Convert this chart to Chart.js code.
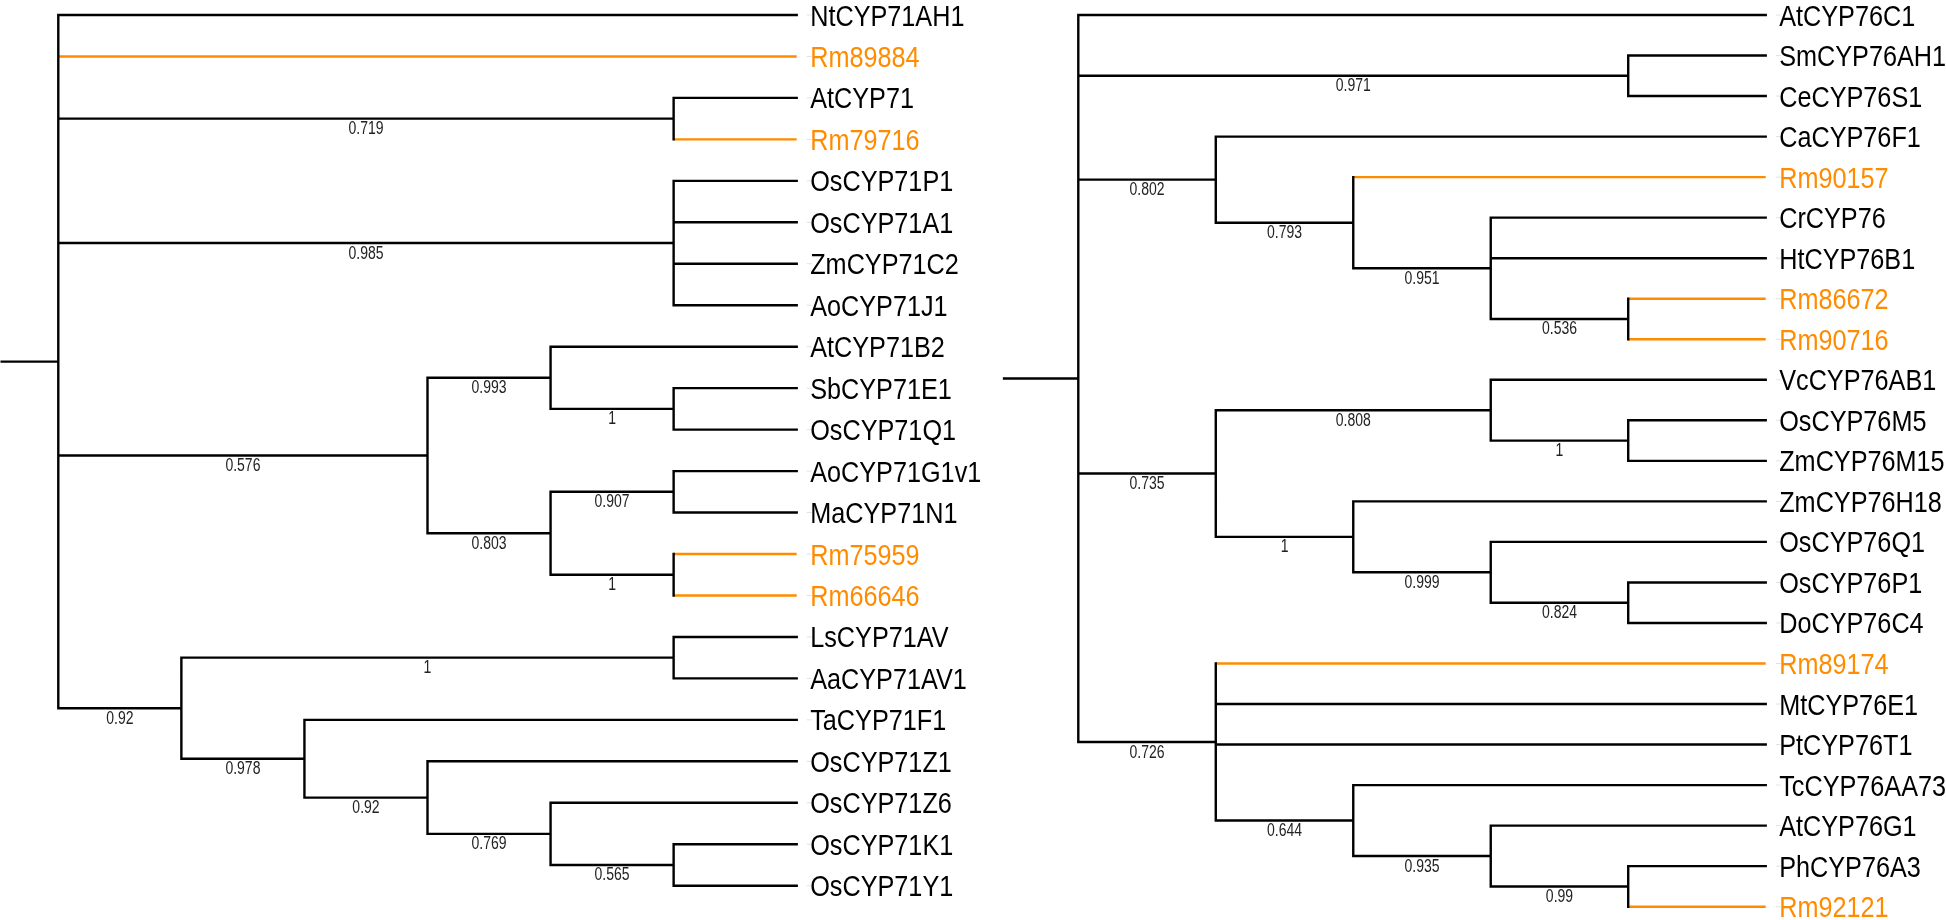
<!DOCTYPE html>
<html>
<head>
<meta charset="utf-8">
<script src="https://cdn.jsdelivr.net/npm/chart.js@4.4.1/dist/chart.umd.min.js"></script>
<style>
  html, body { margin: 0; padding: 0; background: #fff; }
  .quadro { position: relative; width: 1946px; height: 920px; }
  .quadro canvas { position: absolute; left: 0; top: 0; }
</style>
</head>
<body>
<div class="quadro">
  <canvas id="arvore-cyp71" width="1946" height="920"></canvas>
  <canvas id="arvore-cyp76" width="1946" height="920"></canvas>
</div>
<script>
// Topologia das duas arvores (ordem de cima pra baixo), suporte depois de cada clado
const arvoreCYP71 = `(NtCYP71AH1,Rm89884,(AtCYP71,Rm79716)0.719,
  (OsCYP71P1,OsCYP71A1,ZmCYP71C2,AoCYP71J1)0.985,
  ((AtCYP71B2,(SbCYP71E1,OsCYP71Q1)1)0.993,((AoCYP71G1v1,MaCYP71N1)0.907,(Rm75959,Rm66646)1)0.803)0.576,
  ((LsCYP71AV,AaCYP71AV1)1,(TaCYP71F1,(OsCYP71Z1,(OsCYP71Z6,(OsCYP71K1,OsCYP71Y1)0.565)0.769)0.92)0.978)0.92);`;

const arvoreCYP76 = `(AtCYP76C1,(SmCYP76AH1,CeCYP76S1)0.971,
  (CaCYP76F1,(Rm90157,(CrCYP76,HtCYP76B1,(Rm86672,Rm90716)0.536)0.951)0.793)0.802,
  ((VcCYP76AB1,(OsCYP76M5,ZmCYP76M15)1)0.808,(ZmCYP76H18,(OsCYP76Q1,(OsCYP76P1,DoCYP76C4)0.824)0.999)1)0.735,
  (Rm89174,MtCYP76E1,PtCYP76T1,(TcCYP76AA73,(AtCYP76G1,(PhCYP76A3,Rm92121)0.99)0.935)0.644)0.726);`;

// Genes de Rhodomyrtus (destacados em laranja)
const destacados = ['Rm89884', 'Rm79716', 'Rm75959', 'Rm66646',
  'Rm90157', 'Rm86672', 'Rm90716', 'Rm89174', 'Rm92121'];

const COR_DESTAQUE = '#ff8c00';

function lerNewick(texto) {
  texto = texto.replace(/\s+/g, '');
  let pos = 0;
  function no() {
    const n = { filhos: [] };
    if (texto[pos] === '(') {
      pos++;
      n.filhos.push(no());
      while (texto[pos] === ',') { pos++; n.filhos.push(no()); }
      pos++; // ')'
    }
    let rotulo = '';
    while (pos < texto.length && !',);'.includes(texto[pos])) rotulo += texto[pos++];
    if (n.filhos.length) n.suporte = rotulo; else n.nome = rotulo;
    n.filhos.forEach(f => f.pai = n);
    return n;
  }
  return no();
}

function montarArvore(raiz) {
  const folhas = [], internos = [];
  function altura(n) {
    n.altura = n.filhos.length ? 1 + Math.max(...n.filhos.map(altura)) : 0;
    return n.altura;
  }
  const prof = altura(raiz);
  function posicionar(n) {
    n.x = prof - n.altura;
    if (!n.filhos.length) {
      n.y = folhas.length;
      folhas.push(n);
    } else {
      n.filhos.forEach(posicionar);
      n.y = (n.filhos[0].y + n.filhos[n.filhos.length - 1].y) / 2;
      internos.push(n);
    }
  }
  posicionar(raiz);
  return { raiz, folhas, internos, prof };
}

// Rotulos das folhas e valores de suporte
const rotulosArvore = {
  id: 'rotulosArvore',
  afterDatasetsDraw(chart, args, opts) {
    const { ctx } = chart;
    const x = chart.scales.x, y = chart.scales.y;
    const arvore = opts.arvore;
    ctx.save();
    arvore.folhas.forEach(f => {
      const px = x.getPixelForValue(f.x), py = y.getPixelForValue(f.y);
      ctx.strokeStyle = '#e2e2e2';
      ctx.lineWidth = 1;
      ctx.beginPath();
      ctx.moveTo(px + 10, py);
      ctx.lineTo(px + 15, py);
      ctx.stroke();
      ctx.save();
      ctx.translate(px + 13.5, py + 10.5);
      ctx.scale(0.87, 1);
      ctx.font = '29px "Liberation Sans", Arial, sans-serif';
      ctx.textAlign = 'left';
      ctx.textBaseline = 'alphabetic';
      ctx.fillStyle = destacados.includes(f.nome) ? COR_DESTAQUE : '#000';
      ctx.fillText(f.nome, 0, 0);
      ctx.restore();
    });
    arvore.internos.forEach(n => {
      if (!n.pai) return;
      const px = (x.getPixelForValue(n.pai.x) + x.getPixelForValue(n.x)) / 2;
      const py = y.getPixelForValue(n.y);
      ctx.save();
      ctx.translate(px, py + 15.5);
      ctx.scale(0.8, 1);
      ctx.font = '17.5px "Liberation Sans", Arial, sans-serif';
      ctx.textAlign = 'center';
      ctx.textBaseline = 'alphabetic';
      ctx.fillStyle = '#222';
      ctx.fillText(n.suporte, 0, 0);
      ctx.restore();
    });
    ctx.restore();
  }
};

function desenharArvore(idCanvas, newick, area, tocoRaiz) {
  const arvore = montarArvore(lerNewick(newick));
  const linhasPretas = [], linhasLaranja = [];
  const quebra = { x: null, y: null };

  // toco da raiz
  linhasPretas.push({ x: -tocoRaiz, y: arvore.raiz.y }, { x: 0, y: arvore.raiz.y }, quebra);
  arvore.internos.forEach(n => {
    const primeiro = n.filhos[0], ultimo = n.filhos[n.filhos.length - 1];
    linhasPretas.push({ x: n.x, y: primeiro.y }, { x: n.x, y: ultimo.y }, quebra);
    n.filhos.forEach(f => {
      const destino = (!f.filhos.length && destacados.includes(f.nome)) ? linhasLaranja : linhasPretas;
      destino.push({ x: n.x, y: f.y }, { x: f.x, y: f.y }, quebra);
    });
  });

  new Chart(document.getElementById(idCanvas), {
    type: 'scatter',
    data: {
      datasets: [
        {
          data: linhasPretas,
          showLine: true,
          borderColor: '#000',
          borderWidth: 2.4,
          borderCapStyle: 'square',
          pointRadius: 0,
          clip: false
        },
        {
          data: linhasLaranja,
          showLine: true,
          borderColor: COR_DESTAQUE,
          borderWidth: 2.4,
          pointRadius: 0,
          clip: false
        }
      ]
    },
    options: {
      responsive: false,
      animation: false,
      events: [],
      layout: { padding: area },
      scales: {
        x: { display: false, min: 0, max: arvore.prof },
        y: { display: false, reverse: true, min: 0, max: arvore.folhas.length - 1 }
      },
      plugins: {
        legend: { display: false },
        tooltip: { enabled: false },
        rotulosArvore: { arvore }
      }
    },
    plugins: [rotulosArvore]
  });
}

desenharArvore('arvore-cyp71', arvoreCYP71, { left: 58.3, right: 1149.3, top: 15, bottom: 34.3 }, 0.46);
desenharArvore('arvore-cyp76', arvoreCYP76, { left: 1078.3, right: 180.3, top: 15, bottom: 13.3 }, 0.54);
</script>
</body>
</html>
